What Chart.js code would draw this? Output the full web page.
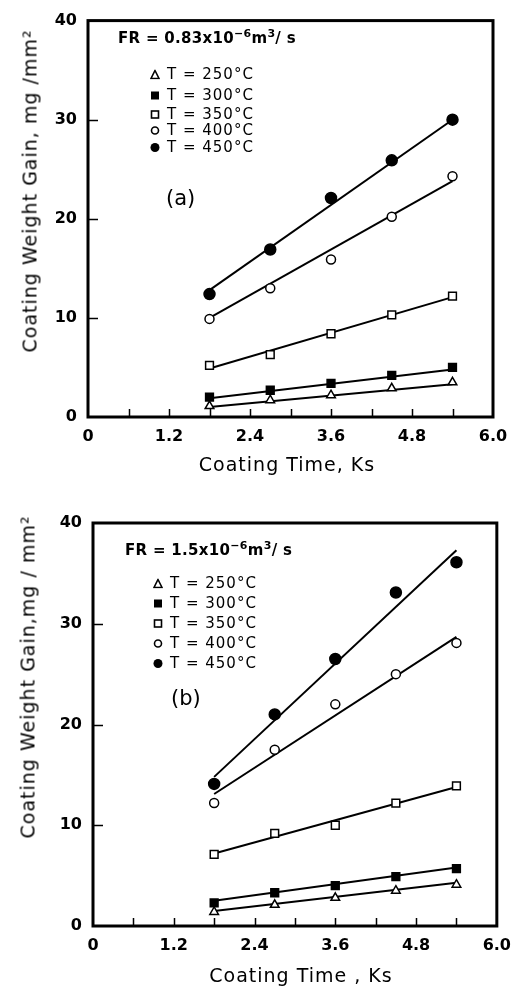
<!DOCTYPE html>
<html>
<head>
<meta charset="utf-8">
<script src="https://cdn.jsdelivr.net/npm/chart.js@4/dist/chart.umd.min.js"></script>
<style>
  body { margin: 0; background: #fff; width: 521px; height: 986px; overflow: hidden; font-family: "DejaVu Sans", sans-serif; color: #000; }
  .panel { position: absolute; left: 0; width: 521px; }
  .panel canvas { position: absolute; left: 0; top: 0; }
  .txt { position: absolute; white-space: nowrap; line-height: 1; }
  .fr { font-size: 15px; font-weight: bold; letter-spacing: 0.3px; }
  .fr sup { font-size: 11px; vertical-align: 6px; }
  .leg { font-size: 15px; letter-spacing: 1px; transform: translateY(-50%); }
  .leg svg { position: absolute; left: -17px; top: 50%; margin-top: -5px; }
  .tag { font-size: 21px; transform: translateY(-50%); }
  .xt { font-size: 19px; letter-spacing: 1px; transform: translate(-50%, -50%); }
  .yt { font-size: 19px; letter-spacing: 1px; transform: translate(-50%, -50%) rotate(-90deg); }
</style>
</head>
<body>
<div class="panel" id="panelA" style="top:0;height:480px;">
  <canvas id="chartA" width="521" height="480"></canvas>
  <div class="txt fr" style="left:118px;top:28px;">FR = 0.83x10<sup>&minus;6</sup>m<sup>3</sup>/ s</div>
  <div class="txt leg" style="left:167px;top:74px;"><svg width="10" height="10"><polygon points="5,1 9,9 1,9" fill="#fff" stroke="#000" stroke-width="1.6"/></svg>T = 250°C</div>
  <div class="txt leg" style="left:167px;top:95px;"><svg width="10" height="10"><rect x="1" y="1" width="8" height="8" fill="#000"/></svg>T = 300°C</div>
  <div class="txt leg" style="left:167px;top:114px;"><svg width="10" height="10"><rect x="1.5" y="1.5" width="7" height="7" fill="#fff" stroke="#000" stroke-width="1.6"/></svg>T = 350°C</div>
  <div class="txt leg" style="left:167px;top:130px;"><svg width="10" height="10"><circle cx="5" cy="5" r="3.5" fill="#fff" stroke="#000" stroke-width="1.6"/></svg>T = 400°C</div>
  <div class="txt leg" style="left:167px;top:147px;"><svg width="10" height="10"><circle cx="5" cy="5" r="4.5" fill="#000"/></svg>T = 450°C</div>
  <div class="txt tag" style="left:166px;top:198px;">(a)</div>
  <div class="txt xt" style="left:287px;top:464px;">Coating Time, Ks</div>
  <div class="txt yt" style="left:30px;top:191px;">Coating Weight Gain, mg /mm²</div>
</div>
<div class="panel" id="panelB" style="top:480px;height:506px;">
  <canvas id="chartB" width="521" height="506"></canvas>
  <div class="txt fr" style="left:125px;top:60px;">FR = 1.5x10<sup>&minus;6</sup>m<sup>3</sup>/ s</div>
  <div class="txt leg" style="left:170px;top:103px;"><svg width="10" height="10"><polygon points="5,1 9,9 1,9" fill="#fff" stroke="#000" stroke-width="1.6"/></svg>T = 250°C</div>
  <div class="txt leg" style="left:170px;top:123px;"><svg width="10" height="10"><rect x="1" y="1" width="8" height="8" fill="#000"/></svg>T = 300°C</div>
  <div class="txt leg" style="left:170px;top:143px;"><svg width="10" height="10"><rect x="1.5" y="1.5" width="7" height="7" fill="#fff" stroke="#000" stroke-width="1.6"/></svg>T = 350°C</div>
  <div class="txt leg" style="left:170px;top:163px;"><svg width="10" height="10"><circle cx="5" cy="5" r="3.5" fill="#fff" stroke="#000" stroke-width="1.6"/></svg>T = 400°C</div>
  <div class="txt leg" style="left:170px;top:183px;"><svg width="10" height="10"><circle cx="5" cy="5" r="4.5" fill="#000"/></svg>T = 450°C</div>
  <div class="txt tag" style="left:171px;top:218px;">(b)</div>
  <div class="txt xt" style="left:301px;top:495px;">Coating Time , Ks</div>
  <div class="txt yt" style="left:28px;top:197px;">Coating Weight Gain,mg / mm²</div>
</div>
<script>
(function () {
  var times = [1.8, 2.7, 3.6, 4.5, 5.4];
  var fitTimes = [1.8, 5.4];
  var temps = ['250', '300', '350', '400', '450'];

  // panel (a), FR = 0.83e-6 m3/s
  var gainA250 = [1.1, 1.7, 2.2, 2.9, 3.5];
  var gainA300 = [2.0, 2.7, 3.4, 4.2, 5.0];
  var gainA350 = [5.2, 6.3, 8.4, 10.3, 12.2];
  var gainA400 = [9.9, 13.0, 15.9, 20.2, 24.3];
  var gainA450 = [12.4, 16.9, 22.1, 25.9, 30.0];
  var fitA250 = [1.0, 3.3];
  var fitA300 = [1.9, 4.8];
  var fitA350 = [4.9, 12.1];
  var fitA400 = [10.0, 23.8];
  var fitA450 = [12.8, 30.0];

  // panel (b), FR = 1.5e-6 m3/s
  var gainB250 = [1.4, 2.1, 2.8, 3.5, 4.1];
  var gainB300 = [2.3, 3.3, 4.0, 4.9, 5.7];
  var gainB350 = [7.1, 9.2, 10.0, 12.2, 13.9];
  var gainB400 = [12.2, 17.5, 22.0, 25.0, 28.1];
  var gainB450 = [14.1, 21.0, 26.5, 33.1, 36.1];
  var fitB250 = [1.5, 4.3];
  var fitB300 = [2.5, 5.8];
  var fitB350 = [7.2, 13.8];
  var fitB400 = [13.1, 28.7];
  var fitB450 = [14.8, 37.3];

  var markStyle = ['triangle', 'rect', 'rect', 'circle', 'circle'];
  var markFilled = [false, true, false, false, true];
  var markRadius = [5, 5.5, 5.5, 4.5, 5.5];

  var tickFont = { family: 'DejaVu Sans', size: 16, weight: 'bold' };

  var frameTicks = {
    id: 'frameTicks',
    afterDatasetsDraw: function (chart) {
      var ctx = chart.ctx, a = chart.chartArea;
      var xs = chart.scales.x, ys = chart.scales.y;
      ctx.save();
      ctx.strokeStyle = '#000';
      ctx.lineWidth = 1.5;
      ctx.beginPath();
      xs.ticks.forEach(function (t) {
        if (t.value <= 0 || t.value >= 6) return;
        var px = Math.round(xs.getPixelForValue(t.value)) + 0.5;
        ctx.moveTo(px, a.bottom);
        ctx.lineTo(px, a.bottom - 8);
      });
      ys.ticks.forEach(function (t) {
        if (t.value <= 0 || t.value >= 40) return;
        var py = Math.round(ys.getPixelForValue(t.value)) + 0.5;
        ctx.moveTo(a.left, py);
        ctx.lineTo(a.left + 10, py);
      });
      ctx.stroke();
      ctx.lineWidth = 3;
      ctx.strokeRect(a.left, a.top, a.right - a.left, a.bottom - a.top);
      ctx.restore();
    }
  };

  function buildChart(id, gains, fits, box) {
    var canvas = document.getElementById(id);
    var H = canvas.height, W = canvas.width;
    var datasets = [];
    temps.forEach(function (t, i) {
      datasets.push({
        label: 'fit ' + t,
        data: fitTimes.map(function (x, j) { return { x: x, y: fits[i][j] }; }),
        showLine: true,
        borderColor: '#000',
        borderWidth: 2,
        pointRadius: 0,
        order: 2
      });
      datasets.push({
        label: 'T = ' + t + '°C',
        data: times.map(function (x, j) { return { x: x, y: gains[i][j] }; }),
        showLine: false,
        pointStyle: markStyle[i],
        pointRadius: markRadius[i],
        backgroundColor: markFilled[i] ? '#000' : '#fff',
        borderColor: '#000',
        borderWidth: 1.5,
        order: 1
      });
    });

    return new Chart(canvas, {
      type: 'scatter',
      data: { datasets: datasets },
      options: {
        responsive: false,
        animation: false,
        layout: { padding: { top: box.top, right: W - box.right, left: 0, bottom: 0 } },
        plugins: { legend: { display: false }, tooltip: { enabled: false } },
        scales: {
          x: {
            type: 'linear', min: 0, max: 6,
            grid: { display: false, drawTicks: false }, border: { display: false },
            ticks: {
              stepSize: 0.6, autoSkip: false, maxRotation: 0, padding: 10,
              color: '#000', font: tickFont,
              callback: function (v, i) {
                if (i % 2) return '';
                return v === 0 ? '0' : v.toFixed(1);
              }
            },
            afterFit: function (s) { s.height = H - box.bottom; }
          },
          y: {
            min: 0, max: 40,
            grid: { display: false, drawTicks: false }, border: { display: false },
            ticks: { stepSize: 10, padding: 11, color: '#000', font: tickFont },
            afterFit: function (s) { s.width = box.left; }
          }
        }
      },
      plugins: [frameTicks]
    });
  }

  buildChart('chartA',
    [gainA250, gainA300, gainA350, gainA400, gainA450],
    [fitA250, fitA300, fitA350, fitA400, fitA450],
    { left: 88, right: 493, top: 15, bottom: 417 });

  buildChart('chartB',
    [gainB250, gainB300, gainB350, gainB400, gainB450],
    [fitB250, fitB300, fitB350, fitB400, fitB450],
    { left: 93, right: 500, top: 43, bottom: 446 });
})();
</script>
</body>
</html>
